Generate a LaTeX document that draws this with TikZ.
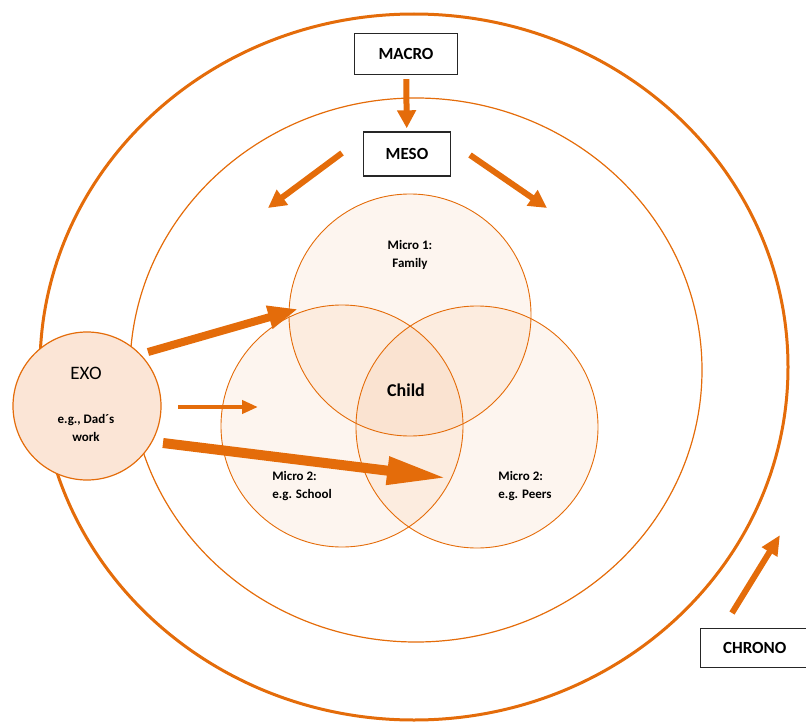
\documentclass[tikz,border=0pt]{standalone}
\usepackage{fontspec}
\setmainfont{Carlito}
\usepackage{xcolor}
\usetikzlibrary{arrows.meta, positioning}

\definecolor{orng}{HTML}{E46C0A}
\definecolor{exofill}{HTML}{FBE5D6}

\begin{document}
\begin{tikzpicture}[x=1pt, y=-1pt,
    levelbox/.style={draw=black!85, line width=1.4pt, fill=white, inner sep=0pt,
                     font=\bfseries\fontsize{17}{20}\selectfont},
    micro/.style={circle, draw=orng, line width=0.9pt, fill=orng, fill opacity=0.065,
                  text opacity=1, minimum size=242pt, inner sep=0pt},
    microlbl/.style={align=center, font=\bfseries\fontsize{13}{18}\selectfont},
    flow/.style={orng, line width=6pt, -{Triangle[width=18pt,length=18pt]}},
  ]
  \useasboundingbox (0,0) rectangle (806,725);
  % Chrono and meso rings
  \draw[orng, line width=3pt] (414,367) ellipse [x radius=374, y radius=353];
  \draw[orng, line width=1.2pt] (416,370) ellipse [x radius=286, y radius=272];
  % Micro systems
  \node[micro] (family) at (410,315) {};
  \node[micro] (school) at (342,426) {};
  \node[micro] (peers)  at (477,427) {};
  \node[microlbl] (famlbl) at (410,255) {Micro 1:\\Family};
  \node[microlbl, align=left] (schlbl) at (302,486) {Micro 2:\\e.g. School};
  \node[microlbl, align=left] (peerlbl) at (525,486) {Micro 2:\\e.g. Peers};
  \node[font=\bfseries\fontsize{18}{20}\selectfont] (child) at (406,390) {Child};
  % Exo system
  \node[circle, draw=orng, line width=1.2pt, fill=exofill, minimum size=148pt,
        inner sep=0pt] (exo) at (87,406) {};
  \node[font=\fontsize{19}{20}\selectfont] (exolbl) at (86,373) {EXO};
  \node[microlbl] (dadlbl) at (86,428) {e.g., Dad´s\\work};
  % Level boxes
  \node[levelbox, minimum width=103pt, minimum height=41pt] (macro) at (406,54) {MACRO};
  \node[levelbox, minimum width=87pt, minimum height=44pt] (meso) at (407,154) {MESO};
  \node[levelbox, minimum width=108pt, minimum height=39pt, anchor=west] (chrono) at (700,648) {CHRONO};
  % Arrow ends
  \coordinate (mesoL) at (342,153);
  \coordinate (tipL) at (268,208);
  \coordinate (mesoR) at (470,155);
  \coordinate (tipR) at (547,208);
  \coordinate (exoA) at (148,352);
  \coordinate (tipA) at (298,309);
  \coordinate (exoB) at (178,407);
  \coordinate (tipB) at (258,407);
  \coordinate (exoC) at (163,443);
  \coordinate (tipC) at (447,478);
  \coordinate (chronoT) at (732,613);
  \coordinate (tipT) at (780,535);
  % Arrows
  \draw[flow, shorten <=4pt, shorten >=3pt] (macro) -- (meso);
  \draw[flow] (mesoL) -- (tipL);
  \draw[flow] (mesoR) -- (tipR);
  \draw[flow, line width=8pt, -{Triangle[width=22pt,length=30pt]}] (exoA) -- (tipA);
  \draw[flow, line width=4pt, -{Triangle[width=13pt,length=16pt]}] (exoB) -- (tipB);
  \draw[flow, line width=10pt, -{Triangle[width=26pt,length=60pt]}] (exoC) -- (tipC);
  \draw[flow, -{Triangle[width=17pt,length=20pt]}] (chronoT) -- (tipT);
\end{tikzpicture}
\end{document}
